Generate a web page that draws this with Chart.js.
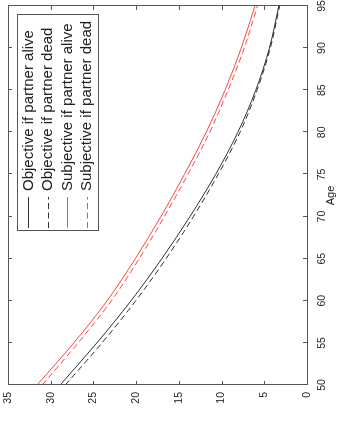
<!DOCTYPE html>
<html>
<head>
<meta charset="utf-8">
<script src="https://cdn.jsdelivr.net/npm/chart.js@4/dist/chart.umd.min.js"></script>
<style>
  html, body { margin: 0; padding: 0; background: #fff; overflow: hidden; }
  body { width: 345px; height: 422px; position: relative; }
  /* the figure is laid out landscape and turned a quarter turn counter-clockwise */
  #wrap {
    position: absolute; left: 0; top: 0;
    width: 422px; height: 345px;
    transform-origin: 0 0;
    transform: translate(0px, 422px) rotate(-90deg);
    background: #fff;
  }
</style>
</head>
<body>
<div id="wrap"><canvas id="c" width="422" height="345"></canvas></div>
<script>
// Remaining years by age
const ages = [50, 55, 60, 65, 70, 75, 80, 85, 90, 95];
const objectiveAlive  = [28.9, 24.6, 20.6, 17.0, 13.7, 10.7, 8.1, 6.0, 4.4, 3.3];
const objectiveDead   = [28.3, 24.0, 20.05, 16.5, 13.3, 10.4, 7.85, 5.85, 4.3, 3.2];
const subjectiveAlive = [31.6, 27.3, 23.4, 20.1, 17.1, 14.35, 11.8, 9.6, 7.7, 6.1];
const subjectiveDead  = [31.0, 26.8, 22.9, 19.65, 16.7, 13.95, 11.4, 9.25, 7.35, 5.8];
const seriesNames = [
  'Objective if partner alive',
  'Objective if partner dead',
  'Subjective if partner alive',
  'Subjective if partner dead'
];
const xTitle = 'Age';

const FONT = '"Liberation Sans", Arial, Helvetica, sans-serif';
const AXIS_COLOR = '#555';
const TEXT_COLOR = '#222';
const BLACK = '#1a1a1a';
const RED = '#ff3030';
const DASH = [6, 3.5];

const toPoints = vals => ages.map((a, i) => ({ x: a, y: vals[i] }));

function series(label, vals, color, dash) {
  return {
    label,
    data: toPoints(vals),
    borderColor: color,
    borderWidth: 0.9,
    borderDash: dash,
    pointRadius: 0,
    fill: false,
    cubicInterpolationMode: 'monotone'
  };
}

// inward tick marks on all four sides plus the closed box
const framePlugin = {
  id: 'frame',
  afterDatasetsDraw(chart) {
    const { ctx, chartArea: a, scales: { x, y } } = chart;
    const L = 4;
    ctx.save();
    ctx.strokeStyle = AXIS_COLOR;
    ctx.lineWidth = 1;
    ctx.setLineDash([]);
    ctx.beginPath();
    x.ticks.forEach(t => {
      const px = Math.round(x.getPixelForValue(t.value)) + 0.5;
      ctx.moveTo(px, a.bottom); ctx.lineTo(px, a.bottom - L);
      ctx.moveTo(px, a.top); ctx.lineTo(px, a.top + L);
    });
    y.ticks.forEach(t => {
      const py = Math.round(y.getPixelForValue(t.value)) + 0.5;
      ctx.moveTo(a.left, py); ctx.lineTo(a.left + L, py);
      ctx.moveTo(a.right, py); ctx.lineTo(a.right - L, py);
    });
    ctx.stroke();
    ctx.strokeRect(Math.round(a.left) + 0.5, Math.round(a.top) + 0.5,
                   Math.round(a.right - a.left), Math.round(a.bottom - a.top));
    ctx.restore();
  }
};

// boxed legend in the upper right corner of the plot
const legendPlugin = {
  id: 'boxLegend',
  afterDraw(chart) {
    const { ctx } = chart;
    const box = { l: 191, t: 17, r: 407, b: 98 };
    const rows = [28.3, 47.7, 67.3, 86.7];
    ctx.save();
    ctx.fillStyle = '#fff';
    ctx.fillRect(box.l, box.t, box.r - box.l, box.b - box.t);
    ctx.strokeStyle = AXIS_COLOR;
    ctx.lineWidth = 1;
    ctx.setLineDash([]);
    ctx.strokeRect(box.l + 0.5, box.t + 0.5, box.r - box.l, box.b - box.t);
    chart.data.datasets.forEach((ds, i) => {
      const yy = Math.round(rows[i]) + 0.5;
      ctx.strokeStyle = ds.borderColor;
      ctx.lineWidth = ds.borderWidth;
      ctx.setLineDash(ds.borderDash || []);
      ctx.beginPath();
      ctx.moveTo(194, yy); ctx.lineTo(225, yy);
      ctx.stroke();
      ctx.setLineDash([]);
      ctx.fillStyle = TEXT_COLOR;
      ctx.font = '15px ' + FONT;
      ctx.textAlign = 'left';
      ctx.textBaseline = 'middle';
      ctx.fillText(ds.label, 231, rows[i] + 0.5);
    });
    ctx.restore();
  }
};

new Chart(document.getElementById('c'), {
  type: 'line',
  data: {
    datasets: [
      series(seriesNames[0], objectiveAlive, BLACK, []),
      series(seriesNames[1], objectiveDead, BLACK, DASH),
      series(seriesNames[2], subjectiveAlive, RED, []),
      series(seriesNames[3], subjectiveDead, RED, DASH)
    ]
  },
  options: {
    responsive: false,
    animation: false,
    devicePixelRatio: 1,
    layout: { padding: { top: 8, right: 6, left: 0, bottom: 0 } },
    plugins: { legend: { display: false }, tooltip: { enabled: false } },
    scales: {
      x: {
        type: 'linear', min: 50, max: 95,
        ticks: { stepSize: 5, color: TEXT_COLOR, font: { family: FONT, size: 10.5 }, padding: 9, maxRotation: 0 },
        grid: { drawOnChartArea: false, drawTicks: false },
        border: { display: false },
        title: { display: true, text: xTitle, color: TEXT_COLOR, font: { family: FONT, size: 11 }, padding: { top: 0, bottom: 7 } },
        afterFit(s) { s.height = 38; s.paddingLeft = 0; s.paddingRight = 0; }
      },
      y: {
        type: 'linear', min: 0, max: 35,
        ticks: { stepSize: 5, color: TEXT_COLOR, font: { family: FONT, size: 10.5 }, padding: 7 },
        grid: { drawOnChartArea: false, drawTicks: false },
        border: { display: false },
        afterFit(s) { s.width = 37; s.paddingTop = 0; s.paddingBottom = 0; }
      }
    }
  },
  plugins: [framePlugin, legendPlugin]
});
</script>
</body>
</html>
